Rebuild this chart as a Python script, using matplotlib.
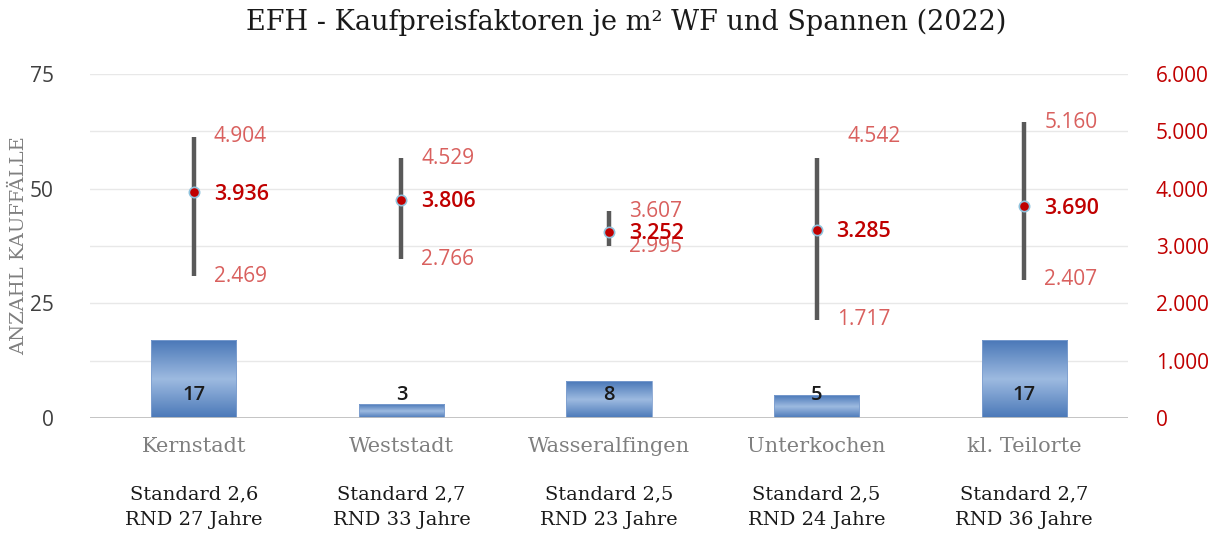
import numpy as np
import matplotlib.pyplot as plt
from matplotlib.colors import LinearSegmentedColormap
from matplotlib.ticker import FuncFormatter

# Daten
orte = ["Kernstadt", "Weststadt", "Wasseralfingen", "Unterkochen", "kl. Teilorte"]
standard = ["2,6", "2,7", "2,5", "2,5", "2,7"]
rnd = [27, 33, 23, 24, 36]
anzahl = [17, 3, 8, 5, 17]
faktor_mittel = [3936, 3806, 3252, 3285, 3690]
faktor_max = [4904, 4529, 3607, 4542, 5160]
faktor_min = [2469, 2766, 2995, 1717, 2407]


def de_zahl(v):
    return f"{int(round(v)):,}".replace(",", ".")


SERIF = "DejaVu Serif"
SANS = "Open Sans"
ROT = "#C00000"
ROT_HELL = "#D9605E"
GRAU = "#595959"

fig = plt.figure(figsize=(12.2, 5.33), dpi=100)
ax = fig.add_axes([90 / 1220, 1 - 418 / 533, (1128 - 90) / 1220, (418 - 74) / 533])
ax2 = ax.twinx()

x = np.arange(len(orte))

# Gitterlinien (alle 12,5 Fälle = alle 1.000 auf der rechten Achse)
for g in np.arange(12.5, 75.1, 12.5):
    ax.axhline(g, color="#E8E8E8", lw=1, zorder=0.5)

# Balken mit Farbverlauf (dunkel - hell - dunkel)
verlauf = LinearSegmentedColormap.from_list("bl", ["#4A78B8", "#9DBAE0", "#4A78B8"])
grad = np.linspace(0, 1, 256).reshape(-1, 1)
bars = ax.bar(x, anzahl, width=0.41, color="none", edgecolor="#7E9FCF", linewidth=0.6, zorder=2)
for b in bars:
    x0, y0, w, h = b.get_x(), b.get_y(), b.get_width(), b.get_height()
    im = ax.imshow(grad, cmap=verlauf, aspect="auto", extent=(x0, x0 + w, y0, y0 + h),
                   zorder=1.5, origin="lower")
    im.set_clip_path(b)
ax.set_xlim(-0.5, len(orte) - 0.5)
ax.set_ylim(0, 75)
ax2.set_ylim(0, 6000)

for xi, n in zip(x, anzahl):
    ax.annotate(str(n), (xi, 0), xytext=(0, 23), textcoords="offset pixels",
                ha="center", va="center", fontsize=14.5, family=SANS, fontweight="semibold",
                color="#1a1a1a", zorder=5)

# Spannen und Mittelwerte
for xi, lo, hi in zip(x, faktor_min, faktor_max):
    ax2.plot([xi, xi], [lo, hi], color=GRAU, lw=3.2, solid_capstyle="butt", zorder=3)
ax2.scatter(x, faktor_mittel, s=55, color=ROT, edgecolor="#8FC3DD", linewidth=1.2, zorder=4)

for i, xi in enumerate(x):
    dy_max = 21 if orte[i] == "Unterkochen" else 0
    dx_max = 31 if orte[i] == "Unterkochen" else 20
    ax2.annotate(de_zahl(faktor_max[i]), (xi, faktor_max[i]), xytext=(dx_max, dy_max),
                 textcoords="offset pixels", ha="left", va="center",
                 fontsize=15, family=SANS, color=ROT_HELL, zorder=5)
    ax2.annotate(de_zahl(faktor_min[i]), (xi, faktor_min[i]), xytext=(20, 0),
                 textcoords="offset pixels", ha="left", va="center",
                 fontsize=15, family=SANS, color=ROT_HELL, zorder=5)
    ax2.annotate(de_zahl(faktor_mittel[i]), (xi, faktor_mittel[i]), xytext=(20, -2),
                 textcoords="offset pixels", ha="left", va="center",
                 fontsize=15.5, family=SANS, fontweight="semibold", color=ROT, zorder=6)

# Achsen
ax2.set_yticks(np.arange(0, 6001, 1000))
ax2.yaxis.set_major_formatter(FuncFormatter(lambda v, p: de_zahl(v)))
ax.set_yticks([0, 25, 50, 75])
ax.set_xticks([])

for a in (ax, ax2):
    for s in a.spines.values():
        s.set_visible(False)
ax.axhline(0, color="#BFBFBF", lw=1.3, zorder=2.5)
ax2.patch.set_visible(False)

ax.tick_params(axis="y", length=0, pad=26, labelsize=15, labelcolor="#404040")
ax2.tick_params(axis="y", length=0, pad=20, labelsize=15, labelcolor=ROT)
for t in ax.get_yticklabels() + ax2.get_yticklabels():
    t.set_family(SANS)

ax.set_ylabel("ANZAHL KAUFFÄLLE", family=SERIF, fontsize=14, color="#7F7F7F")
ax.yaxis.set_label_coords(-62 / 1038, 0.5)

# Kategorien und Zusatzangaben unter der Achse
trans = ax.get_xaxis_transform()
for xi, ort, st, r in zip(x, orte, standard, rnd):
    ax.text(xi, -28 / 344, ort, transform=trans, ha="center", va="center",
            family=SERIF, fontsize=15, color="#7F7F7F")
    ax.text(xi, -76 / 344, f"Standard {st}", transform=trans, ha="center", va="center",
            family=SERIF, fontsize=14, color="#1a1a1a")
    ax.text(xi, -102 / 344, f"RND {r} Jahre", transform=trans, ha="center", va="center",
            family=SERIF, fontsize=14, color="#1a1a1a")

fig.text(626 / 1220, 1 - 22 / 533, "EFH - Kaufpreisfaktoren je m² WF und Spannen (2022)",
         ha="center", va="center", family=SERIF, fontsize=19.5, color="#1a1a1a")

fig.savefig("out.png", dpi=100, facecolor="white")
